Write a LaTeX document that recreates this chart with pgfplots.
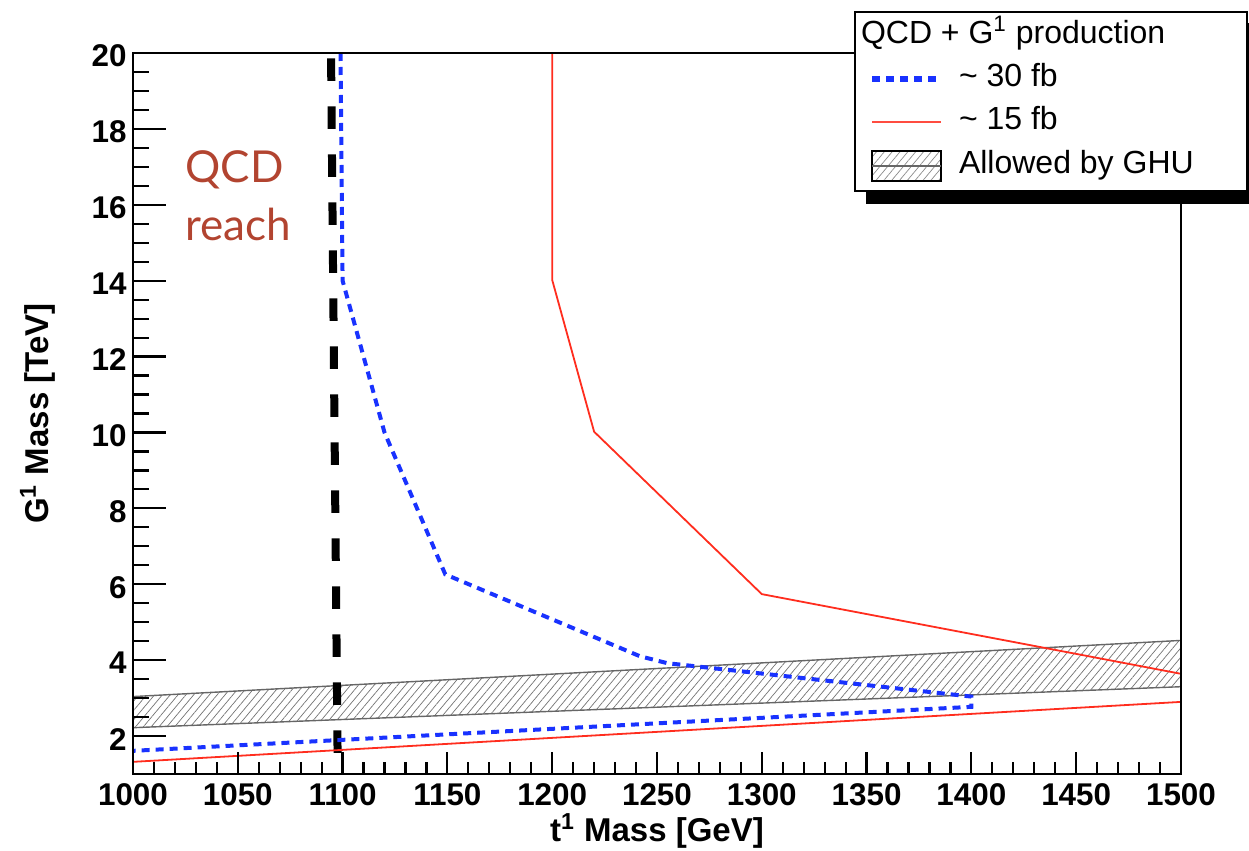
\documentclass[border=0pt]{standalone}
\usepackage{fontspec}
\setmainfont{Liberation Sans}
\newfontfamily\gill{Lato}
\usepackage{pgfplots}
\pgfplotsset{compat=1.18}
\usetikzlibrary{patterns.meta,backgrounds}
\definecolor{rblue}{RGB}{25,50,255}
\definecolor{rred}{RGB}{255,45,30}
\definecolor{qcdc}{RGB}{178,68,48}
\begin{document}
\begin{tikzpicture}
\useasboundingbox (0,0) rectangle (624.5pt,425.5pt);
\begin{axis}[
  at={(66.5pt,38.5pt)}, anchor=south west,
  scale only axis, width=524pt, height=360.5pt,
  xmin=1000, xmax=1500, ymin=1, ymax=20,
  xtick={1000,1050,...,1500}, ytick={2,4,...,20},
  minor x tick num=4, minor y tick num=3,
  tick align=inside, xtick pos=lower, ytick pos=left,
  axis on top,
  axis line style={line width=1.3pt},
  tick style={line width=1.1pt, black},
  major x tick style={/pgfplots/major tick length=11pt},
  minor x tick style={/pgfplots/minor tick length=6pt},
  major y tick style={/pgfplots/major tick length=16.5pt},
  minor y tick style={/pgfplots/minor tick length=8pt},
  /pgf/number format/assume math mode=true,
  /pgf/number format/1000 sep={},
  ticklabel style={font=\fontsize{15.7}{18}\selectfont\bfseries},
  xticklabel style={inner sep=0pt, yshift=-4.5pt},
  yticklabel style={inner sep=0pt, xshift=-3pt, yshift=-1.5pt},
  xlabel={t\textsuperscript{1} Mass [GeV]},
  ylabel={G\textsuperscript{1} Mass [TeV]},
  label style={font=\fontsize{16.5}{19}\selectfont\bfseries, inner sep=0pt},
  xlabel style={at={(axis description cs:0.5,-0.0943)}, anchor=base},
  ylabel style={at={(axis description cs:-0.0911,0.5)}, anchor=center},
  legend cell align=left,
  legend style={name=leg, at={(0.688,1.0583)}, anchor=north west, draw=black,
    line width=1pt, fill=white, font=\fontsize{16}{19}\selectfont,
    inner xsep=7pt, inner ysep=4.5pt, row sep=6.5pt, column sep=7.5pt,
    nodes={inner sep=0pt, text height=11.5pt, text depth=3.5pt}},
]
% allowed band
\addplot[forget plot, draw=black!60, line width=0.7pt,
  pattern={Lines[angle=50,distance=3pt,line width=0.35pt]}, pattern color=black!55]
  coordinates {(1000,2.22) (1500,3.30) (1500,4.52) (1000,3.04)} -- cycle;
% QCD reach
\addplot[forget plot, black, line width=4pt, dash pattern=on 11.25pt off 12.75pt]
  coordinates {(1097.6,1.556) (1094.5,19.87)};
% 30 fb
\addplot[forget plot, rblue, line width=2pt, dash pattern=on 4pt off 3pt]
  coordinates {(1099,20) (1100,14) (1120,10) (1149,6.26) (1242,4.1) (1255,3.92)
               (1400,3.04) (1400,2.77) (1000,1.61)};
% 15 fb
\addplot[forget plot, rred, line width=0.9pt]
  coordinates {(1200,20) (1200,14.02) (1220,10.02) (1300,5.74) (1500,3.64)};
\addplot[forget plot, rred, line width=0.9pt]
  coordinates {(1000,1.32) (1500,2.9)};
\node[anchor=base west, inner sep=0pt, text=qcdc, font=\gill\fontsize{22}{26}\selectfont]
  at (axis cs:1024.8,16.58) {QCD};
\node[anchor=base west, inner sep=0pt, text=qcdc, font=\gill\fontsize{22}{26}\selectfont]
  at (axis cs:1024.8,15.07) {reach};
% legend
\addlegendimage{legend image code/.code={}}
\addlegendentry{\hspace*{-49pt}QCD + G\textsuperscript{1} production\hspace*{34pt}}
\addlegendimage{legend image code/.code={\draw[rblue, line width=3pt, dash pattern=on 4pt off 3pt] (0pt,0pt)--(34.5pt,0pt);}}
\addlegendentry{\textasciitilde{} 30 fb}
\addlegendimage{legend image code/.code={\draw[rred!85, line width=1pt] (0pt,0pt)--(34.5pt,0pt);}}
\addlegendentry{\textasciitilde{} 15 fb}
\addlegendimage{legend image code/.code={\fill[pattern={Lines[angle=50,distance=3pt,line width=0.35pt]}, pattern color=black!45] (0pt,-7.5pt) rectangle (34.5pt,7.5pt); \draw[black!60, line width=0.6pt] (0pt,0pt)--(34.5pt,0pt);}}
\addlegendentry{Allowed by GHU}
\end{axis}
\begin{pgfonlayer}{background}
\fill[black] ([xshift=6pt,yshift=-6pt]leg.south west) rectangle ([xshift=6pt,yshift=-6pt]leg.north east);
\end{pgfonlayer}
\end{tikzpicture}
\end{document}
